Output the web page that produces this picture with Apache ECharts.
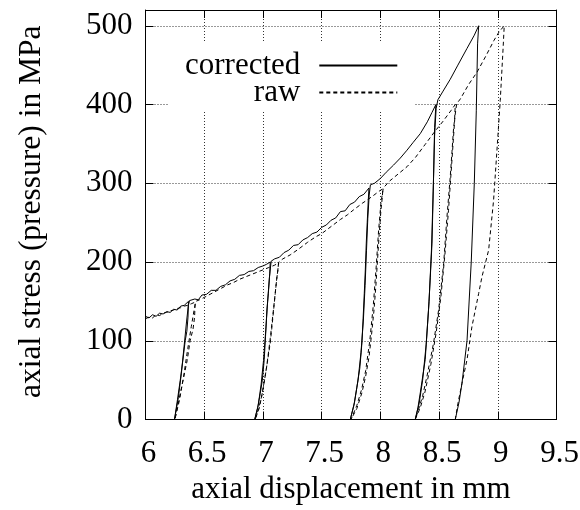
<!DOCTYPE html>
<html><head><meta charset="utf-8">
<script src="https://cdn.jsdelivr.net/npm/echarts@6/dist/echarts.min.js"></script>
<style>html,body{margin:0;padding:0;background:#fff}#c{width:580px;height:510px}</style>
</head><body><div id="c"></div>
<script>
var xTicks = [6, 6.5, 7, 7.5, 8, 8.5, 9, 9.5];
var yTicks = [0, 100, 200, 300, 400, 500];
var seriesNames = ['corrected', 'raw'];

var corrX = [6.00,6.03,6.06,6.09,6.12,6.15,6.18,6.21,6.24,6.27,6.30,6.33,6.366,
 6.362,6.352,6.338,6.318,6.296,6.272,6.247,
 6.255,6.28,6.305,6.33,6.35,6.365,6.375,
 6.42,6.45,6.48,6.52,6.56,6.60,6.64,6.68,6.72,6.76,6.80,6.84,6.88,6.92,6.96,7.00,7.03,7.062,
 7.058,7.046,7.034,7.022,7.011,6.995,6.977,6.955,6.93,
 6.938,6.96,6.985,7.005,7.025,7.04,7.055,7.07,
 7.10,7.14,7.18,7.22,7.26,7.30,7.34,7.38,7.42,7.46,7.50,7.54,7.58,7.62,7.66,7.70,7.74,7.78,7.82,7.86,7.903,
 7.897,7.888,7.88,7.872,7.863,7.853,7.843,7.825,7.80,7.775,7.744,
 7.752,7.78,7.81,7.835,7.855,7.87,7.882,7.893,7.905,7.915,
 7.95,8.00,8.05,8.112,8.17,8.227,8.28,8.34,8.40,8.44,8.473,
 8.462,8.453,8.44,8.425,8.41,8.382,8.34,8.32,8.297,
 8.305,8.33,8.36,8.39,8.415,8.435,8.45,8.462,8.475,8.49,
 8.53,8.595,8.66,8.737,8.80,8.837,
 8.828,8.817,8.80,8.774,8.738,8.695,8.67,8.638];
var corrY = [131,129,133,131,135,134,137,136,140,139,144,145,150,
 130,112,100,75,50,25,0,
 0,28,58,95,125,145,151,
 153,152,158,159,164,164,169,171,176,178,183,184,188,189,193,195,197,200,
 185,160,139,105,76,50,33,15,0,
 0,18,45,75,115,150,180,201,
 204,206,212,215,221,222,228,231,236,238,244,247,253,256,264,265,273,276,283,286,294,
 278,250,224,190,160,128,97,65,41,18,0,
 0,22,50,85,125,170,215,255,285,298,
 300,306,314,323,332,342,352,363,378,390,400,
 371,308,224,180,139,76,34,15,0,
 0,20,50,95,150,215,290,360,395,406,
 416,432,450,471,488,500,
 477,392,300,200,100,46,22,0];

var rawX = [6.00,6.03,6.06,6.09,6.12,6.15,6.18,6.21,6.24,6.27,6.30,6.33,6.36,6.39,6.423,
 6.418,6.405,6.38,6.355,6.32,6.285,6.25,
 6.258,6.29,6.325,6.36,6.39,6.415,6.428,
 6.46,6.50,6.55,6.60,6.65,6.70,6.75,6.80,6.85,6.90,6.95,7.00,7.05,7.10,7.133,
 7.128,7.119,7.105,7.091,7.075,7.062,7.04,7.019,6.99,6.962,6.934,
 6.942,6.97,7.00,7.03,7.06,7.09,7.115,7.135,
 7.17,7.232,7.30,7.38,7.45,7.50,7.58,7.66,7.72,7.77,7.85,7.90,7.946,7.99,8.022,
 8.015,8.005,7.99,7.976,7.962,7.946,7.925,7.904,7.875,7.843,7.80,7.75,
 7.758,7.80,7.84,7.875,7.91,7.94,7.965,7.985,8.005,8.025,
 8.08,8.17,8.227,8.30,8.38,8.455,8.53,8.60,8.638,
 8.632,8.624,8.61,8.595,8.567,8.539,8.496,8.453,8.397,8.36,8.326,8.297,
 8.305,8.34,8.38,8.43,8.475,8.515,8.55,8.58,8.61,8.635,8.65,
 8.681,8.75,8.823,8.90,8.966,9.01,9.055,
 9.044,9.021,8.993,8.964,8.922,8.865,8.837,8.78,8.738,8.695,8.66,8.638];
var rawY = [128,130,129,133,132,135,136,138,139,141,142,144,145,147,149,
 130,115,100,75,50,25,0,
 0,25,55,90,118,140,150,
 152,155,159,163,167,171,174,178,181,184,187,190,193,196,199,
 190,181,160,139,115,97,75,55,30,13,0,
 0,15,38,65,100,140,175,200,
 204,209,216,225,232,236,245,254,260,266,275,280,285,290,293,
 280,266,235,203,170,139,108,80,55,34,14,0,
 0,18,38,62,100,145,195,240,275,294,
 303,314,321,333,349,364,378,392,400,
 380,371,340,308,257,198,139,97,55,30,13,0,
 0,15,35,70,110,155,210,265,330,385,401,
 407,425,441,462,481,492,500,
 468,405,342,278,215,181,160,118,76,46,20,0];

function pairs(xs, ys) { return xs.map(function (x, i) { return [x, ys[i]]; }); }

var FONT = 'Liberation Serif';
var chart = echarts.init(document.getElementById('c'), null, {renderer: 'canvas'});
var gridLine = {show: true, lineStyle: {color: '#333', width: 1, type: [1, 2]}};
var baseX = {
  type: 'value', min: xTicks[0], max: xTicks[xTicks.length - 1], interval: 0.5,
  axisLine: {show: true, onZero: false, lineStyle: {color: '#000', width: 1}},
  axisTick: {show: true, inside: true, length: 8, lineStyle: {color: '#000'}}
};
var baseY = {
  type: 'value', min: 0, max: 520, interval: 100,
  axisLine: {show: true, onZero: false, lineStyle: {color: '#000', width: 1}},
  axisTick: {show: true, inside: true, length: 8, lineStyle: {color: '#000'}}
};
chart.setOption({
  animation: false,
  backgroundColor: '#fff',
  textStyle: {fontFamily: FONT},
  grid: {left: 145.5, right: 23.5, top: 10, bottom: 90.5, containLabel: false, outerBoundsMode: 'none'},
  legend: {
    orient: 'vertical', align: 'right', left: 169, top: 42,
    padding: [8, 16, 4, 16], backgroundColor: '#fff',
    itemWidth: 78, itemHeight: 14, itemGap: -4,
    itemStyle: {opacity: 0},
    data: seriesNames,
    textStyle: {fontFamily: FONT, fontSize: 31, color: '#000', padding: [0, 14, 0, 0]}
  },
  xAxis: [
    Object.assign({}, baseX, {
      position: 'bottom',
      name: 'axial displacement in mm', nameLocation: 'middle', nameGap: 46,
      nameTextStyle: {fontFamily: FONT, fontSize: 31, color: '#000'},
      axisLabel: {show: true, fontFamily: FONT, fontSize: 31, color: '#000', margin: 19, padding: [0, 0, 0, 6],
        formatter: function (v) { return xTicks.indexOf(v) >= 0 ? String(v) : ''; }},
      splitLine: gridLine
    }),
    Object.assign({}, baseX, {position: 'top', axisLabel: {show: false}, splitLine: {show: false}})
  ],
  yAxis: [
    Object.assign({}, baseY, {
      position: 'left',
      name: 'axial stress (pressure) in MPa', nameLocation: 'middle', nameGap: 98,
      nameTextStyle: {fontFamily: FONT, fontSize: 31.5, color: '#000', padding: [0, 0, 0, 6]},
      axisLabel: {show: true, fontFamily: FONT, fontSize: 31, color: '#000', margin: 13,
        formatter: function (v) { return yTicks.indexOf(v) >= 0 ? String(v) : ''; }},
      splitLine: gridLine
    }),
    Object.assign({}, baseY, {position: 'right', axisLabel: {show: false}, splitLine: {show: false}})
  ],
  series: [
    {name: seriesNames[0], type: 'line', xAxisIndex: 0, yAxisIndex: 0, data: pairs(corrX, corrY),
     symbol: 'none', showSymbol: false, lineStyle: {color: '#000', width: 1, type: 'solid'}, itemStyle: {color: '#000'}},
    {name: seriesNames[1], type: 'line', xAxisIndex: 0, yAxisIndex: 0, data: pairs(rawX, rawY),
     symbol: 'none', showSymbol: false, lineStyle: {color: '#000', width: 1, type: [4, 3]}, itemStyle: {color: '#000'}}
  ]
});
</script></body></html>
